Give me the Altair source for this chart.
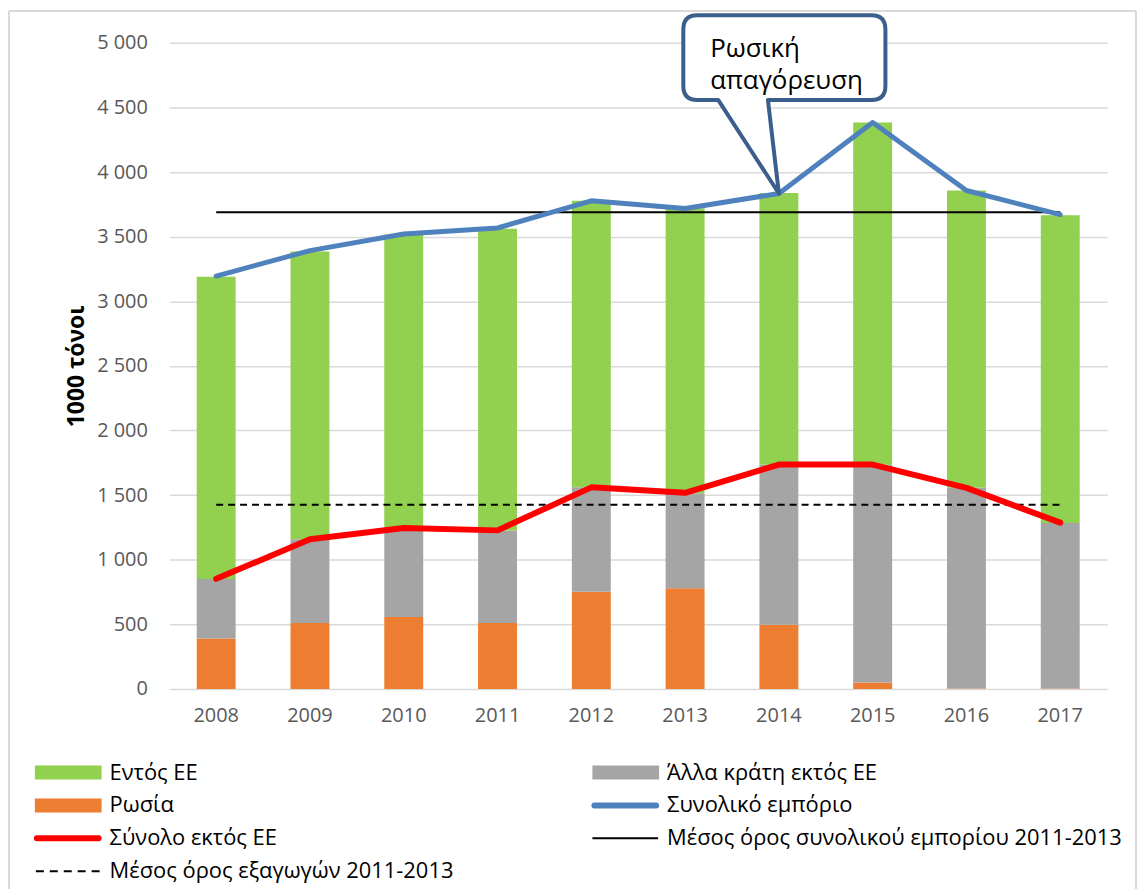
import altair as alt
import pandas as pd

# ---------------- data ----------------
years = ["2008", "2009", "2010", "2011", "2012", "2013", "2014", "2015", "2016", "2017"]
intra_eu = [2340, 2227, 2270, 2335, 2218, 2205, 2103, 2648, 2299, 2380]
other_non_eu = [459, 647, 688, 716, 808, 735, 1239, 1686, 1554, 1282]
russia = [391, 511, 557, 511, 752, 780, 496, 49, 4, 3]
total_trade = [3195, 3392, 3521, 3567, 3777, 3718, 3834, 4383, 3857, 3670]
total_non_eu = [852, 1158, 1245, 1227, 1560, 1518, 1736, 1736, 1556, 1287]
avg_total_2011_2013 = 3688
avg_exports_2011_2013 = 1425
y_ticks = [0, 500, 1000, 1500, 2000, 2500, 3000, 3500, 4000, 4500, 5000]

callout_year = "2014"
callout_lines = ["Ρωσική", "απαγόρευση"]
y_title = "1000 τόνοι"

lbl_intra = "Εντός ΕΕ"
lbl_other = "Άλλα κράτη εκτός ΕΕ"
lbl_russia = "Ρωσία"
lbl_total = "Συνολικό εμπόριο"
lbl_nonEU = "Σύνολο εκτός ΕΕ"
lbl_avg_total = "Μέσος όρος συνολικού εμπορίου 2011-2013"
lbl_avg_exp = "Μέσος όρος εξαγωγών 2011-2013"

legend_labels = [lbl_intra, lbl_other, lbl_russia, lbl_total, lbl_nonEU, lbl_avg_total, lbl_avg_exp]
legend_kinds = ["bar", "bar", "bar", "thick", "thick", "thin", "dash"]

colors = {
    lbl_intra: "#92d050",
    lbl_other: "#a5a5a5",
    lbl_russia: "#ed7d31",
    lbl_total: "#4f81bd",
    lbl_nonEU: "#ff0000",
    lbl_avg_total: "#000000",
    lbl_avg_exp: "#000000",
}

# ---------------- tables ----------------
bar_rows = []
for i, y in enumerate(years):
    bar_rows.append({"year": y, "series": lbl_russia, "value": russia[i], "ord": 0})
    bar_rows.append({"year": y, "series": lbl_other, "value": other_non_eu[i], "ord": 1})
    bar_rows.append({"year": y, "series": lbl_intra, "value": intra_eu[i], "ord": 2})
bars_df = pd.DataFrame(bar_rows)

total_df = pd.DataFrame({"year": years, "value": total_trade})
nonEU_df = pd.DataFrame({"year": years, "value": total_non_eu})
avg_total_df = pd.DataFrame({"year": years, "value": [avg_total_2011_2013] * len(years)})
avg_exp_df = pd.DataFrame({"year": years, "value": [avg_exports_2011_2013] * len(years)})
one_df = pd.DataFrame({"k": [0]})

legend_df = pd.DataFrame({
    "label": legend_labels,
    "kind": legend_kinds,
    "col": [i % 2 for i in range(len(legend_labels))],
    "row": [i // 2 for i in range(len(legend_labels))],
})

# ---------------- shared encodings ----------------
FONT = "Open Sans"
x_scale = alt.Scale(domain=years, paddingInner=0, paddingOuter=0)
x_axis = alt.Axis(title=None, labelAngle=0, domain=False, ticks=False, grid=False,
                  labelPadding=17, labelFontSize=20, labelColor="#595959", labelFont=FONT)
y_scale = alt.Scale(domain=[0, 5000], nice=False)
y_axis = alt.Axis(values=y_ticks, title=y_title, domain=False, ticks=False, grid=True,
                  gridColor="#d9d9d9", gridWidth=1.5,
                  labelExpr="replace(format(datum.value, ','), ',', ' ')",
                  labelPadding=22, labelFontSize=20, labelColor="#595959", labelFont=FONT,
                  titleFont=FONT, titleFontSize=23, titleFontWeight="bold", titleColor="#000000",
                  titlePadding=8)

X = alt.X("year:N", scale=x_scale, axis=x_axis)


def Y(stack=None):
    if stack:
        return alt.Y("value:Q", scale=y_scale, axis=y_axis, stack=stack)
    return alt.Y("value:Q", scale=y_scale, axis=y_axis)


# ---------------- frame ----------------
frame_col = "#d9d9d9"
frame_left = alt.Chart(one_df).mark_rule(color=frame_col, strokeWidth=2).encode(
    x=alt.value(-161), y=alt.value(-32), y2=alt.value(850))
frame_top = alt.Chart(one_df).mark_rule(color=frame_col, strokeWidth=2).encode(
    x=alt.value(-161), x2=alt.value(971), y=alt.value(-32))
frame_right = alt.Chart(one_df).mark_rule(color=frame_col, strokeWidth=2).encode(
    x=alt.value(971), y=alt.value(-32), y2=alt.value(850))

# ---------------- main marks ----------------
bars = alt.Chart(bars_df).mark_bar(width=alt.RelativeBandSize(0.415)).encode(
    x=X,
    y=Y("zero"),
    color=alt.Color("series:N",
                    scale=alt.Scale(domain=[lbl_intra, lbl_other, lbl_russia],
                                    range=[colors[lbl_intra], colors[lbl_other], colors[lbl_russia]]),
                    legend=None),
    order=alt.Order("ord:Q"),
)

avg_total_line = alt.Chart(avg_total_df).mark_line(color="#000000", strokeWidth=2).encode(x=X, y=Y())
avg_exp_line = alt.Chart(avg_exp_df).mark_line(color="#000000", strokeWidth=2, strokeDash=[7, 5]).encode(x=X, y=Y())
total_line = alt.Chart(total_df).mark_line(color=colors[lbl_total], strokeWidth=5, strokeCap="round",
                                           strokeJoin="round").encode(x=X, y=Y())
nonEU_line = alt.Chart(nonEU_df).mark_line(color=colors[lbl_nonEU], strokeWidth=6, strokeCap="round",
                                           strokeJoin="round").encode(x=X, y=Y())

# ---------------- callout anchored at the 2014 total ----------------
callout_path = ("M-11,-94 L93,-94 Q107,-94 107,-108 L107,-165 Q107,-179 93,-179 "
                "L-82,-179 Q-96,-179 -96,-165 L-96,-108 Q-96,-94 -82,-94 L-61,-94 L0,0 Z")
callout_base = alt.Chart(total_df).transform_filter(alt.datum.year == callout_year)
callout_shape = callout_base.mark_point(shape=callout_path, size=4, filled=True, fill="#ffffff",
                                        stroke="#3b5f8c", strokeWidth=4, opacity=1,
                                        strokeJoin="round").encode(x=X, y=Y())
callout_t1 = callout_base.mark_text(text=callout_lines[0], align="left", baseline="alphabetic",
                                    dx=-69, dy=-137, fontSize=26, font=FONT, color="#000000").encode(x=X, y=Y())
callout_t2 = callout_base.mark_text(text=callout_lines[1], align="left", baseline="alphabetic",
                                    dx=-69, dy=-105, fontSize=26, font=FONT, color="#000000").encode(x=X, y=Y())

main = alt.layer(frame_left, frame_top, frame_right, bars, avg_total_line, avg_exp_line,
                 total_line, nonEU_line, callout_shape, callout_t1, callout_t2)

# ---------------- legend (own scales) ----------------
LX = alt.X("col:Q", scale=alt.Scale(domain=[0, 1], range=[-102, 458]), axis=None)
LY = alt.Y("row:Q", scale=alt.Scale(domain=[0, 3], range=[733, 832]), axis=None)
bar_lbls = [lbl_intra, lbl_other, lbl_russia]
line_lbls = [lbl_total, lbl_nonEU, lbl_avg_total, lbl_avg_exp]
fill_scale = alt.Scale(domain=bar_lbls, range=[colors[l] for l in bar_lbls])
stroke_scale = alt.Scale(domain=line_lbls, range=[colors[l] for l in line_lbls])

leg_base = alt.Chart(legend_df)
leg_rect = leg_base.transform_filter(alt.datum.kind == "bar").mark_point(
    shape="M-33,-7 H34 V7 H-33 Z", size=4, filled=True, opacity=1, strokeWidth=0).encode(
    x=LX, y=LY, fill=alt.Fill("label:N", scale=fill_scale, legend=None))
leg_thick = leg_base.transform_filter(alt.datum.kind == "thick").mark_point(
    shape="M-31,0 H31", size=4, filled=False, opacity=1, strokeWidth=6, strokeCap="round").encode(
    x=LX, y=LY, stroke=alt.Stroke("label:N", scale=stroke_scale, legend=None))
leg_thin = leg_base.transform_filter(alt.datum.kind == "thin").mark_point(
    shape="M-33,0 H33", size=4, filled=False, opacity=1, strokeWidth=2).encode(
    x=LX, y=LY, stroke=alt.Stroke("label:N", scale=stroke_scale, legend=None))
leg_dash = leg_base.transform_filter(alt.datum.kind == "dash").mark_point(
    shape="M-32,0 H32", size=4, filled=False, opacity=1, strokeWidth=2, strokeDash=[8, 6]).encode(
    x=LX, y=LY, stroke=alt.Stroke("label:N", scale=stroke_scale, legend=None))
leg_text = leg_base.mark_text(align="left", baseline="middle", dx=42, fontSize=22, font=FONT,
                              color="#000000").encode(x=LX, y=LY, text="label:N")

legend = alt.layer(leg_rect, leg_thick, leg_thin, leg_dash, leg_text)

chart = alt.layer(main, legend).resolve_scale(
    x="independent", y="independent", fill="independent", stroke="independent", color="independent"
).properties(
    width=942, height=649,
    padding={"left": 0, "top": 0, "right": 0, "bottom": 0},
).configure_view(stroke=None)

chart.save("out.html", embed_options={"renderer": "svg", "actions": False})
